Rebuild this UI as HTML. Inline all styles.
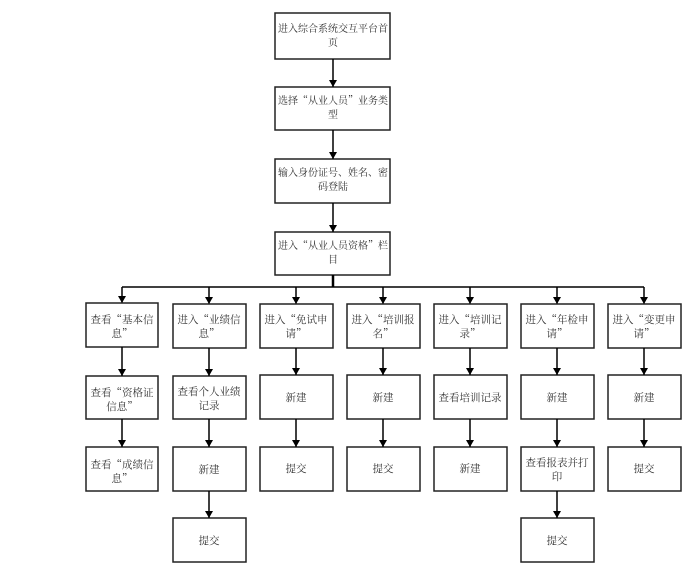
<!DOCTYPE html>
<html><head><meta charset="utf-8"><style>
html,body{margin:0;padding:0;background:#fff;}
svg{display:block;}
text{font-family:"Noto Serif CJK SC","Noto Sans CJK SC",serif;font-size:10.5px;fill:#333;text-anchor:middle;}
text.t{font-size:10px;}
</style></head><body>
<svg width="696" height="580" viewBox="0 0 696 580" xmlns="http://www.w3.org/2000/svg">
<defs><marker id="a" markerWidth="8" markerHeight="8" refX="7" refY="4" orient="auto" markerUnits="userSpaceOnUse"><path d="M0,0 L7,4 L0,8 z" fill="#000"/></marker></defs>
<g fill="none" stroke="#222" stroke-width="1.5">
<rect x="275" y="13" width="115" height="46"/>
<rect x="275" y="87" width="115" height="43"/>
<rect x="275" y="159" width="115" height="44"/>
<rect x="275" y="232" width="115" height="43"/>
</g>
<g stroke="#000" stroke-width="1.5" fill="none">
<line x1="333" y1="59" x2="333" y2="87" marker-end="url(#a)"/>
<line x1="333" y1="130" x2="333" y2="159" marker-end="url(#a)"/>
<line x1="333" y1="203" x2="333" y2="232" marker-end="url(#a)"/>
<line x1="333" y1="275" x2="333" y2="287" stroke-width="2.5"/>
<line x1="122" y1="287" x2="644" y2="287"/>
<line x1="122" y1="287" x2="122" y2="303" marker-end="url(#a)"/>
<line x1="209" y1="287" x2="209" y2="304" marker-end="url(#a)"/>
<line x1="296" y1="287" x2="296" y2="304" marker-end="url(#a)"/>
<line x1="383" y1="287" x2="383" y2="304" marker-end="url(#a)"/>
<line x1="470" y1="287" x2="470" y2="304" marker-end="url(#a)"/>
<line x1="557" y1="287" x2="557" y2="304" marker-end="url(#a)"/>
<line x1="644" y1="287" x2="644" y2="304" marker-end="url(#a)"/>
</g>
<text class="t" x="333" y="32">进入综合系统交互平台首</text><text class="t" x="333" y="46">页</text>
<text class="t" x="333" y="104">选择“从业人员”业务类</text><text class="t" x="333" y="118">型</text>
<text class="t" x="333" y="176">输入身份证号、姓名、密</text><text class="t" x="333" y="190">码登陆</text>
<text class="t" x="333" y="249">进入“从业人员资格”栏</text><text class="t" x="333" y="263">目</text>
<g fill="none" stroke="#222" stroke-width="1.5">
<rect x="86" y="303" width="72" height="44"/><rect x="86" y="376" width="72" height="43"/><rect x="86" y="447" width="72" height="44"/>
<rect x="173" y="304" width="73" height="44"/><rect x="173" y="376" width="73" height="43"/><rect x="173" y="447" width="73" height="44"/><rect x="173" y="518" width="73" height="44"/>
<rect x="260" y="304" width="73" height="44"/><rect x="260" y="375" width="73" height="44"/><rect x="260" y="447" width="73" height="44"/>
<rect x="347" y="304" width="73" height="44"/><rect x="347" y="375" width="73" height="44"/><rect x="347" y="447" width="73" height="44"/>
<rect x="434" y="304" width="73" height="44"/><rect x="434" y="375" width="73" height="44"/><rect x="434" y="447" width="73" height="44"/>
<rect x="521" y="304" width="73" height="44"/><rect x="521" y="375" width="73" height="44"/><rect x="521" y="447" width="73" height="44"/><rect x="521" y="518" width="73" height="44"/>
<rect x="608" y="304" width="73" height="44"/><rect x="608" y="375" width="73" height="44"/><rect x="608" y="447" width="73" height="44"/>
</g>
<g stroke="#000" stroke-width="1.5">
<line x1="122" y1="347" x2="122" y2="376" marker-end="url(#a)"/><line x1="122" y1="419" x2="122" y2="447" marker-end="url(#a)"/>
<line x1="209" y1="348" x2="209" y2="376" marker-end="url(#a)"/><line x1="209" y1="419" x2="209" y2="447" marker-end="url(#a)"/><line x1="209" y1="491" x2="209" y2="518" marker-end="url(#a)"/>
<line x1="296" y1="348" x2="296" y2="375" marker-end="url(#a)"/><line x1="296" y1="419" x2="296" y2="447" marker-end="url(#a)"/>
<line x1="383" y1="348" x2="383" y2="375" marker-end="url(#a)"/><line x1="383" y1="419" x2="383" y2="447" marker-end="url(#a)"/>
<line x1="470" y1="348" x2="470" y2="375" marker-end="url(#a)"/><line x1="470" y1="419" x2="470" y2="447" marker-end="url(#a)"/>
<line x1="557" y1="348" x2="557" y2="375" marker-end="url(#a)"/><line x1="557" y1="419" x2="557" y2="447" marker-end="url(#a)"/><line x1="557" y1="491" x2="557" y2="518" marker-end="url(#a)"/>
<line x1="644" y1="348" x2="644" y2="375" marker-end="url(#a)"/><line x1="644" y1="419" x2="644" y2="447" marker-end="url(#a)"/>
</g>
<text x="122" y="323">查看“基本信</text><text x="122" y="337">息”</text>
<text x="122" y="396">查看“资格证</text><text x="122" y="410">信息”</text>
<text x="122" y="468">查看“成绩信</text><text x="122" y="482">息”</text>
<text x="209" y="323">进入“业绩信</text><text x="209" y="337">息”</text>
<text x="209" y="395">查看个人业绩</text><text x="209" y="409">记录</text>
<text x="209" y="473">新建</text><text x="209" y="544">提交</text>
<text x="296" y="323">进入“免试申</text><text x="296" y="337">请”</text>
<text x="296" y="401">新建</text><text x="296" y="472">提交</text>
<text x="383" y="323">进入“培训报</text><text x="383" y="337">名”</text>
<text x="383" y="401">新建</text><text x="383" y="472">提交</text>
<text x="470" y="323">进入“培训记</text><text x="470" y="337">录”</text>
<text x="470" y="401">查看培训记录</text><text x="470" y="472">新建</text>
<text x="557" y="323">进入“年检申</text><text x="557" y="337">请”</text>
<text x="557" y="401">新建</text>
<text x="557" y="466">查看报表并打</text><text x="557" y="480">印</text>
<text x="557" y="544">提交</text>
<text x="644" y="323">进入“变更申</text><text x="644" y="337">请”</text>
<text x="644" y="401">新建</text><text x="644" y="472">提交</text>
</svg>
</body></html>
